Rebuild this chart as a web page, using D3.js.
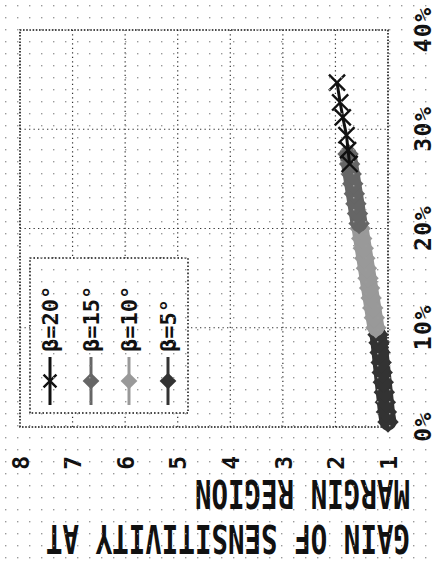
<!DOCTYPE html>
<html>
<head>
<meta charset="utf-8">
<script src="https://d3js.org/d3.v7.min.js"></script>
<style>
  html, body { margin: 0; padding: 0; background: #fff; }
  svg { display: block; }
</style>
</head>
<body>
<div id="chart"></div>
<script>
// ---------------- data ----------------
const xTicks = [0, 10, 20, 30, 40];           // ratio (%)
const yTicks = [1, 2, 3, 4, 5, 6, 7, 8];      // gain
const seriesNames = ["β=20°", "β=15°", "β=10°", "β=5°"];
const titleLines = ["GAIN OF SENSITIVITY AT", "MARGIN REGION"];

const beta5X  = [0.5, 1.5, 2.5, 3.5, 4.5, 5.5, 6.5, 7.5, 8.5, 9.3];
const beta5Y  = [1.00, 1.03, 1.05, 1.07, 1.09, 1.11, 1.13, 1.15, 1.17, 1.19];
const beta10X = [10, 11, 12, 13, 14, 15, 16, 17, 18, 19, 20];
const beta10Y = [1.23, 1.26, 1.29, 1.32, 1.35, 1.38, 1.41, 1.44, 1.47, 1.50, 1.53];
const beta15X = [20.5, 21.5, 22.5, 23.5, 24.5, 25.5, 26.5, 27.5];
const beta15Y = [1.55, 1.58, 1.61, 1.64, 1.67, 1.70, 1.73, 1.76];
const beta20X = [26.5, 27.9, 29.4, 31.2, 32.7, 34.7];
const beta20Y = [1.73, 1.76, 1.79, 1.86, 1.91, 1.97];

// ---------------- setup ----------------
const W = 435, H = 564;
const svg = d3.select("#chart").append("svg")
  .attr("width", W).attr("height", H)
  .attr("font-family", "'DejaVu Sans Mono', 'Liberation Mono', monospace");

svg.append("rect").attr("width", W).attr("height", H).attr("fill", "#fff");

const defs = svg.append("defs");
const pat = defs.append("pattern").attr("id", "dots")
  .attr("patternUnits", "userSpaceOnUse").attr("width", 12).attr("height", 12);
pat.append("rect").attr("x", 5).attr("y", 5).attr("width", 1.4).attr("height", 1.4).attr("fill", "#9a9a9a");

// The figure is drawn in its natural orientation, then rotated 90° CCW.
const g = svg.append("g").attr("transform", `translate(0,${H}) rotate(-90)`);

const x = d3.scaleLinear().domain([0, 40]).range([137, 534]);
const y = d3.scaleLinear().domain([1, 8]).range([388, 20]);

const gridColor = "#333";

// gridlines
g.append("g").selectAll("line").data(xTicks.slice(1, -1)).join("line")
  .attr("x1", d => x(d)).attr("x2", d => x(d))
  .attr("y1", y(8)).attr("y2", y(1))
  .attr("stroke", gridColor).attr("stroke-width", 1.2).attr("stroke-dasharray", "1.3,3.2");
g.append("g").selectAll("line").data(yTicks.slice(1, -1)).join("line")
  .attr("y1", d => y(d)).attr("y2", d => y(d))
  .attr("x1", x(0)).attr("x2", x(40))
  .attr("stroke", gridColor).attr("stroke-width", 1.2).attr("stroke-dasharray", "1.3,3.2");

// frame
g.append("rect")
  .attr("x", x(0)).attr("y", y(8))
  .attr("width", x(40) - x(0)).attr("height", y(1) - y(8))
  .attr("fill", "none").attr("stroke", "#111").attr("stroke-width", 1.6)
  .attr("stroke-dasharray", "1.6,1.6");

// axes (labels only)
const xAxis = g.append("g").attr("transform", `translate(0,${y(1)})`)
  .call(d3.axisBottom(x).tickValues(xTicks).tickFormat(d => d + "%").tickSize(0));
const yAxis = g.append("g").attr("transform", `translate(${x(0)},0)`)
  .call(d3.axisLeft(y).tickValues(yTicks).tickFormat(d3.format("d")).tickSize(0));
[xAxis, yAxis].forEach(a => {
  a.select(".domain").remove();
  a.selectAll("text")
    .attr("font-family", "'DejaVu Sans Mono', monospace")
    .attr("font-size", 23).attr("font-weight", "bold")
    .attr("fill", "#111").attr("letter-spacing", 1.5);
});
xAxis.selectAll("text").attr("y", 35).attr("dy", "0.36em");
yAxis.selectAll("text").attr("x", -35).attr("dy", "0.36em").attr("text-anchor", "middle");

// axis title (rotated, tall narrow lettering)
const title = g.append("g").attr("transform", `translate(25,410) rotate(-90)`);
title.selectAll("g").data(titleLines).join("g")
  .attr("transform", (d, i) => `translate(0,${i * 45}) scale(1,1.4)`)
  .append("text")
  .attr("x", 0).attr("y", 0).attr("dy", "0.36em")
  .attr("text-anchor", "start")
  .attr("font-family", "'DejaVu Sans Mono', monospace")
  .attr("font-size", 27.5).attr("font-weight", "bold").attr("fill", "#111")
  .text(d => d);

// series
const series = [
  { name: seriesNames[3], xs: beta5X,  ys: beta5Y,  color: "#333", marker: "diamond" },
  { name: seriesNames[2], xs: beta10X, ys: beta10Y, color: "#999", marker: "diamond" },
  { name: seriesNames[1], xs: beta15X, ys: beta15Y, color: "#666", marker: "diamond" },
  { name: seriesNames[0], xs: beta20X, ys: beta20Y, color: "#111", marker: "x" }
];

const line = d3.line().x(d => x(d[0])).y(d => y(d[1]));
const diamond = d3.symbol(d3.symbolSquare);
const cross = d3.symbol(d3.symbolX);

function drawMarker(sel, s, big) {
  if (s.marker === "diamond") {
    sel.append("path").attr("d", diamond.size(big ? 230 : 140)())
      .attr("transform", "rotate(45)").attr("fill", s.color);
  } else {
    sel.append("path").attr("d", cross.size(big ? 170 : 110)())
      .attr("fill", "none").attr("stroke", s.color).attr("stroke-width", 2.4);
  }
}

series.forEach(s => {
  const pts = s.xs.map((v, i) => [v, s.ys[i]]);
  const sg = g.append("g");
  if (s.marker === "diamond") {
    // overlapping markers form a continuous band
    sg.append("path").datum(pts).attr("d", line)
      .attr("fill", "none").attr("stroke", s.color).attr("stroke-width", 17)
      .attr("stroke-linecap", "round").attr("stroke-linejoin", "round");
  }
  sg.append("path").datum(pts).attr("d", line)
    .attr("fill", "none").attr("stroke", s.color).attr("stroke-width", 3);
  sg.selectAll("g.m").data(pts).join("g").attr("class", "m")
    .attr("transform", d => `translate(${x(d[0])},${y(d[1])})`)
    .each(function () { drawMarker(d3.select(this), s, true); });
});

// legend
const leg = g.append("g");
leg.append("rect").attr("x", 151).attr("y", 30).attr("width", 155).attr("height", 158)
  .attr("fill", "#fff").attr("stroke", "#111").attr("stroke-width", 1.5)
  .attr("stroke-dasharray", "1.6,2");
const legOrder = [series[3], series[2], series[1], series[0]];
const rowY = [50, 91, 129, 168];
legOrder.forEach((s, i) => {
  const r = leg.append("g").attr("transform", `translate(0,${rowY[i]})`);
  r.append("line").attr("x1", 159).attr("x2", 207).attr("y1", 0).attr("y2", 0)
    .attr("stroke", s.color).attr("stroke-width", 3);
  drawMarker(r.append("g").attr("transform", "translate(183,0)"), s, false);
  r.append("text").attr("x", 212).attr("y", 0).attr("dy", "0.36em")
    .attr("font-size", 22).attr("font-weight", "bold").attr("fill", "#111")
    .text(s.name);
});

// scan-dot texture over everything
svg.append("rect").attr("width", W).attr("height", H).attr("fill", "url(#dots)")
  .attr("pointer-events", "none");
</script>
</body>
</html>
